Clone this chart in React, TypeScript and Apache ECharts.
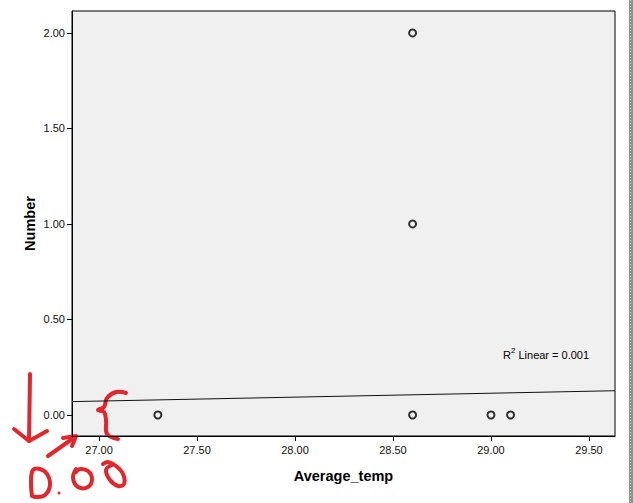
import React, { useEffect, useRef } from "react";
import * as echarts from "echarts";

const pointsX = [27.3, 28.6, 28.6, 28.6, 29.0, 29.1];
const pointsY = [0, 0, 1, 2, 0, 0];
const fitX = [26.862, 29.633];
const fitY = [0.07, 0.127];
const xTicks = [27.0, 27.5, 28.0, 28.5, 29.0, 29.5];
const yTicks = [0, 0.5, 1.0, 1.5, 2.0];
const rSquaredLabel = "0.001";

const RED = "#e4262c";

export default function App() {
  const ref = useRef<HTMLDivElement>(null);
  useEffect(() => {
    document.body.style.margin = "0";
    const chart = echarts.init(ref.current!, null, { renderer: "svg" });
    const font = "'Liberation Sans', Arial, sans-serif";
    const redLine = { stroke: RED, lineWidth: 4, fill: null, lineCap: "round", lineJoin: "round" };
    chart.setOption({
      animation: false,
      backgroundColor: "#ffffff",
      grid: {
        left: 72,
        top: 11,
        right: 18,
        bottom: 67,
        show: true,
        backgroundColor: "#f0f0f0",
        borderColor: "#000",
        borderWidth: 1,
      },
      xAxis: {
        type: "value",
        min: 26.862,
        max: 29.633,
        name: "Average_temp",
        nameLocation: "middle",
        nameGap: 32,
        nameMoveOverlap: false,
        nameTextStyle: { fontFamily: font, fontWeight: "bold", fontSize: 14.5, color: "#000" },
        axisLine: { show: true, onZero: false, lineStyle: { color: "#000" } },
        axisTick: { show: true, length: 5, lineStyle: { color: "#000" }, customValues: xTicks },
        axisLabel: {
          fontFamily: font,
          fontSize: 11,
          color: "#111",
          margin: 8,
          customValues: xTicks,
          formatter: (v: number) => v.toFixed(2),
        },
        splitLine: { show: false },
      },
      yAxis: {
        type: "value",
        min: -0.11,
        max: 2.115,
        name: "Number",
        nameLocation: "middle",
        nameGap: 35,
        nameMoveOverlap: false,
        nameRotate: 90,
        nameTextStyle: { fontFamily: font, fontWeight: "bold", fontSize: 14.5, color: "#000" },
        axisLine: { show: true, onZero: false, lineStyle: { color: "#000" } },
        axisTick: { show: true, length: 5, lineStyle: { color: "#000" }, customValues: yTicks },
        axisLabel: {
          fontFamily: font,
          fontSize: 11,
          color: "#111",
          margin: 7,
          customValues: yTicks,
          formatter: (v: number) => v.toFixed(2),
        },
        splitLine: { show: false },
      },
      series: [
        {
          type: "line",
          data: fitX.map((x, i) => [x, fitY[i]]),
          showSymbol: false,
          symbol: "none",
          lineStyle: { color: "#111", width: 1 },
          z: 2,
        },
        {
          type: "scatter",
          data: pointsX.map((x, i) => [x, pointsY[i]]),
          symbol: "circle",
          symbolSize: 7,
          itemStyle: { color: "#f4f4f4", borderColor: "#000", borderWidth: 2 },
          z: 3,
        },
      ],
      graphic: [
        {
          type: "text",
          left: 503,
          top: 346,
          style: {
            text: "{a|R}{s|2}{a| Linear = " + rSquaredLabel + "}",
            rich: {
              a: { fontFamily: font, fontSize: 11, fill: "#000", verticalAlign: "bottom", lineHeight: 14 },
              s: { fontFamily: font, fontSize: 8, fill: "#000", verticalAlign: "top", lineHeight: 14, padding: [0, 0, 6, 0] },
            },
          },
        },
        // right-hand hatched border
        { type: "rect", shape: { x: 629, y: 0, width: 4, height: 503 }, style: { fill: "#8e8e8e" } },
        { type: "line", shape: { x1: 630.5, y1: 0, x2: 630.5, y2: 503 }, style: { stroke: "#d8d8d8", lineWidth: 1, lineDash: [1, 2] } },
        // red scribbles
        { type: "polyline", shape: { points: [[30, 374], [29, 441]] }, style: redLine },
        { type: "polyline", shape: { points: [[14, 429], [29, 441], [47, 431]] }, style: redLine },
        { type: "polyline", shape: { points: [[48, 456], [75, 437]] }, style: redLine },
        { type: "polyline", shape: { points: [[63, 438], [76, 436], [72, 446]] }, style: redLine },
        {
          type: "polyline",
          shape: {
            points: [[126, 393], [116, 392], [107, 398], [104, 407], [98, 410], [104, 412], [106, 420], [107, 434], [118, 439]],
            smooth: 0.4,
          },
          style: redLine,
        },
        {
          type: "polyline",
          shape: {
            points: [[32, 496], [31, 482], [33, 470], [40, 469], [47, 474], [50, 485], [45, 495], [36, 497], [32, 496]],
            smooth: 0.4,
          },
          style: redLine,
        },
        { type: "circle", shape: { cx: 59, cy: 493, r: 1.5 }, style: { fill: RED } },
        {
          type: "polyline",
          shape: {
            points: [[76, 469], [73, 478], [78, 487], [88, 487], [92, 479], [88, 471], [80, 469], [76, 472]],
            smooth: 0.4,
          },
          style: redLine,
        },
        {
          type: "polyline",
          shape: {
            points: [[103, 464], [108, 462], [116, 466], [123, 474], [124, 484], [118, 486], [110, 480], [106, 470], [112, 465]],
            smooth: 0.4,
          },
          style: redLine,
        },
      ],
    });
    return () => chart.dispose();
  }, []);
  return <div ref={ref} style={{ width: 633, height: 503 }} />;
}
